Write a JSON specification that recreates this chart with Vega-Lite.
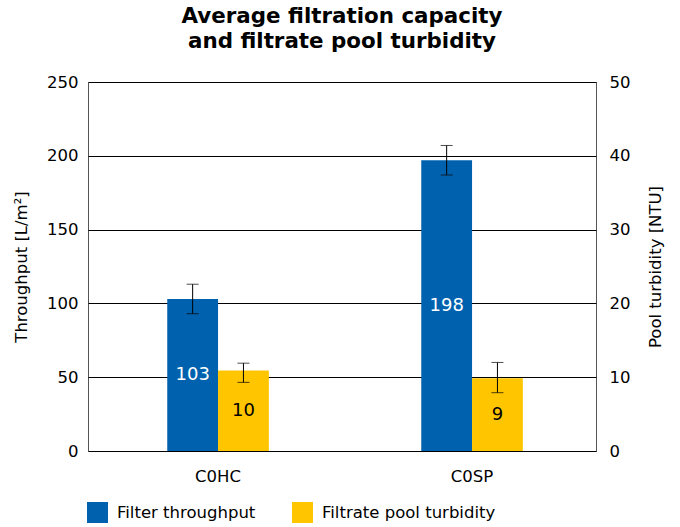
{
  "$schema": "https://vega.github.io/schema/vega-lite/v6.json",
  "width": 508,
  "height": 369,
  "autosize": "none",
  "padding": {"left": 88, "top": 82, "right": 84, "bottom": 76},
  "background": "white",
  "config": {
    "font": "DejaVu Sans",
    "view": {"stroke": "#555", "strokeWidth": 1},
    "axis": {"labelFont": "DejaVu Sans", "titleFont": "DejaVu Sans", "labelColor": "#000", "titleColor": "#000", "labelFontSize": 16.5, "titleFontSize": 16.5, "titleFontWeight": "normal", "ticks": false, "domain": false}
  },
  "title": {
    "text": ["Average filtration capacity", "and filtrate pool turbidity"],
    "fontSize": 21.4,
    "fontWeight": "bold",
    "font": "DejaVu Sans",
    "color": "#000",
    "anchor": "middle",
    "lineHeight": 25,
    "offset": 22
  },
  "data": {
    "values": [
      {"cat": "C0HC", "series": "Filter throughput", "value": 103, "lo": 93, "hi": 113, "label": "103"},
      {"cat": "C0SP", "series": "Filter throughput", "value": 197, "lo": 187, "hi": 207, "label": "198"},
      {"cat": "C0HC", "series": "Filtrate pool turbidity", "value": 10.9, "lo": 9.3, "hi": 11.9, "label": "10"},
      {"cat": "C0SP", "series": "Filtrate pool turbidity", "value": 9.85, "lo": 7.9, "hi": 12.0, "label": "9"}
    ]
  },
  "encoding": {
    "x": {"field": "cat", "type": "nominal", "title": null, "scale": {"paddingInner": 0.6, "paddingOuter": 0.3, "align": 0.52},
      "axis": {"labelAngle": 0, "labelPadding": 17, "grid": false}},
    "xOffset": {"field": "series", "type": "nominal", "scale": {"domain": ["Filter throughput", "Filtrate pool turbidity"]}}
  },
  "layer": [
    {
      "transform": [{"filter": "datum.series === 'Filter throughput'"}],
      "encoding": {
        "y": {"field": "value", "type": "quantitative", "title": "Throughput [L/m²]",
          "scale": {"domain": [0, 250], "nice": false},
          "axis": {"values": [0, 50, 100, 150, 200, 250], "grid": true, "gridColor": "#000", "gridOpacity": 1, "gridWidth": 1, "labelPadding": 10, "titlePadding": 17, "orient": "left"}}
      },
      "layer": [
        {"mark": {"type": "bar"},
          "encoding": {"color": {"field": "series", "type": "nominal",
            "scale": {"domain": ["Filter throughput", "Filtrate pool turbidity"], "range": ["#0062AE", "#FFC600"]},
            "legend": {"title": null, "orient": "none", "direction": "horizontal", "legendX": -1, "legendY": 420,
              "symbolType": "square", "symbolSize": 441, "symbolStrokeWidth": 0, "symbolOpacity": 1, "labelFontSize": 16.5, "labelColor": "#000", "labelFont": "DejaVu Sans", "labelOffset": 9, "labelLimit": 400, "columnPadding": 36}}}},
        {"mark": {"type": "rule", "color": "#000", "strokeWidth": 1},
          "encoding": {"y": {"field": "lo", "type": "quantitative"}, "y2": {"field": "hi"}}},
        {"mark": {"type": "tick", "color": "#000", "thickness": 1, "size": 12},
          "encoding": {"y": {"field": "lo", "type": "quantitative"}}},
        {"mark": {"type": "tick", "color": "#000", "thickness": 1, "size": 12},
          "encoding": {"y": {"field": "hi", "type": "quantitative"}}},
        {"transform": [{"calculate": "datum.value / 2", "as": "mid"}],
          "mark": {"type": "text", "color": "#fff", "fontSize": 18, "baseline": "middle", "font": "DejaVu Sans"},
          "encoding": {"y": {"field": "mid", "type": "quantitative"}, "text": {"field": "label"}}}
      ]
    },
    {
      "transform": [{"filter": "datum.series === 'Filtrate pool turbidity'"}],
      "encoding": {
        "y": {"field": "value", "type": "quantitative", "title": "Pool turbidity [NTU]",
          "scale": {"domain": [0, 50], "nice": false},
          "axis": {"values": [0, 10, 20, 30, 40, 50], "grid": false, "orient": "right", "labelPadding": 13, "titlePadding": 18, "titleAngle": -90, "titleBaseline": "top"}}
      },
      "layer": [
        {"mark": {"type": "bar"},
          "encoding": {"color": {"field": "series", "type": "nominal"}}},
        {"mark": {"type": "rule", "color": "#000", "strokeWidth": 1},
          "encoding": {"y": {"field": "lo", "type": "quantitative"}, "y2": {"field": "hi"}}},
        {"mark": {"type": "tick", "color": "#000", "thickness": 1, "size": 12},
          "encoding": {"y": {"field": "lo", "type": "quantitative"}}},
        {"mark": {"type": "tick", "color": "#000", "thickness": 1, "size": 12},
          "encoding": {"y": {"field": "hi", "type": "quantitative"}}},
        {"transform": [{"calculate": "datum.value / 2", "as": "mid"}],
          "mark": {"type": "text", "color": "#000", "fontSize": 18, "baseline": "middle", "font": "DejaVu Sans"},
          "encoding": {"y": {"field": "mid", "type": "quantitative"}, "text": {"field": "label"}}}
      ]
    }
  ],
  "resolve": {"scale": {"y": "independent"}}
}
